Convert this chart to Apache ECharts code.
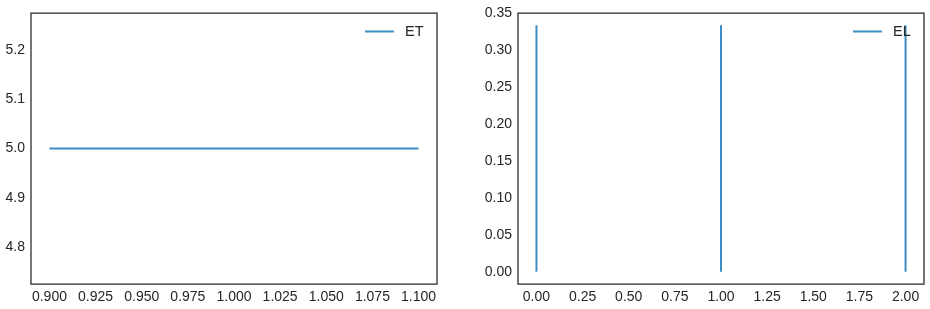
<!DOCTYPE html>
<html>
<head>
<meta charset="utf-8">
<script src="https://cdn.jsdelivr.net/npm/echarts@6/dist/echarts.min.js"></script>
<style>html,body{margin:0;padding:0;background:#fff;}#c{width:930px;height:309px;}</style>
</head>
<body>
<div id="c"></div>
<script>
// ---- data ----
const etX = [0.9, 1.1];
const etY = [5.0, 5.0];
const elX = [0, 1, 2];
const elHeights = [0.3333, 0.3333, 0.3333];
const leftXTicks = [0.9, 0.925, 0.95, 0.975, 1.0, 1.025, 1.05, 1.075, 1.1];
const leftYTicks = [4.8, 4.9, 5.0, 5.1, 5.2];
const rightXTicks = [0, 0.25, 0.5, 0.75, 1.0, 1.25, 1.5, 1.75, 2.0];
const rightYTicks = [0, 0.05, 0.1, 0.15, 0.2, 0.25, 0.3, 0.35];

const lineColor = '#3d8cc4';
const textColor = '#262626';
const font = 'Liberation Sans, Arial, sans-serif';

function axisCommon(ticks, digits) {
  return {
    type: 'value',
    axisLine: { show: false },
    axisTick: { show: false },
    splitLine: { show: false },
    axisLabel: {
      customValues: ticks,
      formatter: v => Number(v).toFixed(digits),
      color: textColor,
      fontFamily: font,
      fontSize: 14,
      margin: 6,
      showMinLabel: true,
      showMaxLabel: true
    }
  };
}

const chart = echarts.init(document.getElementById('c'), null, { renderer: 'canvas' });

const series = [
  {
    name: 'ET', type: 'line', xAxisIndex: 0, yAxisIndex: 0,
    data: etX.map((x, i) => [x, etY[i]]),
    showSymbol: false, symbol: 'none',
    lineStyle: { color: lineColor, width: 2 }, itemStyle: { color: lineColor },
    animation: false
  }
];
elX.forEach((x, i) => {
  series.push({
    name: 'EL', type: 'line', xAxisIndex: 1, yAxisIndex: 1,
    data: [[x, 0], [x, elHeights[i]]],
    showSymbol: false, symbol: 'none',
    lineStyle: { color: lineColor, width: 2 }, itemStyle: { color: lineColor },
    animation: false
  });
});

const legendCommon = {
  icon: 'rect', itemWidth: 29, itemHeight: 2, itemGap: 10,
  textStyle: { color: textColor, fontFamily: font, fontSize: 14.5, padding: [0, 0, 0, 6] }
};

chart.setOption({
  animation: false,
  backgroundColor: '#fff',
  grid: [
    { left: 31, top: 13, width: 406, height: 271, show: true, borderColor: textColor, borderWidth: 1.25, backgroundColor: 'transparent' },
    { left: 518, top: 13, width: 406, height: 271, show: true, borderColor: textColor, borderWidth: 1.25, backgroundColor: 'transparent' }
  ],
  xAxis: [
    Object.assign(axisCommon(leftXTicks, 3), { gridIndex: 0, min: 0.89, max: 1.11 }),
    Object.assign(axisCommon(rightXTicks, 2), { gridIndex: 1, min: -0.1, max: 2.1 })
  ],
  yAxis: [
    Object.assign(axisCommon(leftYTicks, 1), { gridIndex: 0, min: 4.725, max: 5.275 }),
    Object.assign(axisCommon(rightYTicks, 2), { gridIndex: 1, min: -0.016667, max: 0.35 })
  ],
  legend: [
    Object.assign({ data: ['ET'], left: 360, top: 19 }, legendCommon),
    Object.assign({ data: ['EL'], left: 848, top: 19 }, legendCommon)
  ],
  series: series
});
</script>
</body>
</html>
